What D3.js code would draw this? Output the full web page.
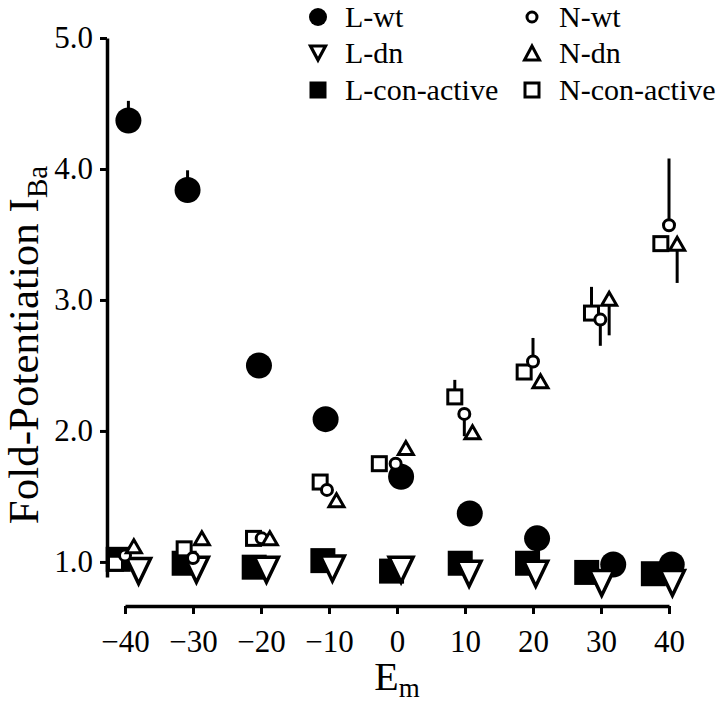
<!DOCTYPE html>
<html><head><meta charset="utf-8">
<script src="https://cdn.jsdelivr.net/npm/d3@7"></script>
<style>
body{margin:0;background:#fff}
svg{display:block}
text{font-family:"Liberation Serif","Times New Roman",serif;fill:#000}
</style>
</head><body>
<svg id="c" width="720" height="706"></svg>
<script>
// ---- data ----
const yTicks = [1, 2, 3, 4, 5];
const xTicks = [-40, -30, -20, -10, 0, 10, 20, 30, 40];

const seriesNames = ["L-wt", "N-wt", "L-dn", "N-dn", "L-con-active", "N-con-active"];

// plotted membrane potential (mV) and fold-potentiation for each series
const lwtE = [-39.5, -30.8, -20.3, -10.5, 0.6, 10.7, 20.6, 31.8, 40.4];
const lwtV = [4.37, 3.84, 2.50, 2.09, 1.65, 1.37, 1.18, 0.98, 0.98];
const lwtErr = [0.15, 0.15, 0, 0, 0, 0, 0, 0, 0];

const ldnE = [-38.0, -29.5, -19.2, -9.5, 0.6, 10.6, 20.4, 30.1, 40.5];
const ldnV = [0.93, 0.94, 0.94, 0.95, 0.94, 0.91, 0.91, 0.84, 0.84];

const lcaE = [-41.0, -31.3, -21.0, -10.9, -0.8, 9.3, 19.2, 27.9, 37.7];
const lcaV = [1.02, 0.99, 0.96, 1.01, 0.93, 0.99, 0.99, 0.92, 0.91];

const nwtE = [-40.0, -30.0, -19.9, -10.3, -0.2, 9.9, 20.0, 29.9, 40.0];
const nwtV = [1.05, 1.03, 1.18, 1.55, 1.75, 2.13, 2.53, 2.85, 3.57];
const nwtErr = [0, 0, 0, 0, 0, -0.17, 0.18, -0.20, 0.51];

const ndnE = [-38.7, -28.7, -18.7, -8.9, 1.3, 11.1, 21.1, 31.2, 41.2];
const ndnV = [1.12, 1.18, 1.18, 1.47, 1.87, 1.99, 2.38, 3.01, 3.43];
const ndnErr = [0, 0, 0, 0, 0, 0, 0, -0.28, -0.30];

const ncaE = [-41.4, -31.3, -21.1, -11.3, -2.6, 8.5, 18.7, 28.6, 38.8];
const ncaV = [0.99, 1.10, 1.18, 1.61, 1.75, 2.26, 2.45, 2.90, 3.43];
const ncaErr = [0, 0, 0, 0, 0, 0.13, 0, 0.20, 0];

// ---- chart ----
const svg = d3.select("#c");
const x = d3.scaleLinear().domain([-40, 40]).range([125, 669]);
const y = d3.scaleLinear().domain([0.885, 5]).range([577, 38]);

const zip = (E, V, Er) => E.map((e, i) => ({e, v: V[i], err: Er ? Er[i] : 0}));

const series = [
  {name: "L-con-active", type: "fsquare", data: zip(lcaE, lcaV)},
  {name: "L-wt", type: "fcircle", data: zip(lwtE, lwtV, lwtErr)},
  {name: "L-dn", type: "dtri", data: zip(ldnE, ldnV)},
  {name: "N-con-active", type: "osquare", data: zip(ncaE, ncaV, ncaErr)},
  {name: "N-wt", type: "ocircle", data: zip(nwtE, nwtV, nwtErr)},
  {name: "N-dn", type: "utri", data: zip(ndnE, ndnV, ndnErr)}
];

function marker(g, type, big) {
  if (type === "fcircle") {
    g.append("circle").attr("r", big ? 13 : 9).attr("fill", "#000");
  } else if (type === "fsquare") {
    const w = big ? 25 : 17;
    g.append("rect").attr("x", -w/2).attr("y", -w/2).attr("width", w).attr("height", w).attr("fill", "#000");
  } else if (type === "dtri") {
    const w = big ? 24 : 15, h = big ? 25 : 14;
    g.append("path").attr("d", `M0,${h/2}L${w/2},${-h/2}L${-w/2},${-h/2}Z`)
      .attr("fill", "#fff").attr("stroke", "#000").attr("stroke-width", big ? 3.5 : 3.2).attr("stroke-linejoin", "miter");
  } else if (type === "utri") {
    const w = 15, h = big ? 13 : 14;
    g.append("path").attr("d", `M0,${-h/2}L${w/2},${h/2}L${-w/2},${h/2}Z`)
      .attr("fill", "#fff").attr("stroke", "#000").attr("stroke-width", 3).attr("stroke-linejoin", "miter");
  } else if (type === "ocircle") {
    g.append("circle").attr("r", big ? 5.5 : 5).attr("fill", "#fff").attr("stroke", "#000").attr("stroke-width", 3);
  } else if (type === "osquare") {
    const w = 14;
    g.append("rect").attr("x", -w/2).attr("y", -w/2).attr("width", w).attr("height", w)
      .attr("fill", "#fff").attr("stroke", "#000").attr("stroke-width", 3);
  }
}

// axes
const yAxis = d3.axisLeft(y).tickValues(yTicks).tickFormat(d3.format(".1f")).tickSize(7).tickSizeOuter(0).tickPadding(7);
const gy = svg.append("g").attr("transform", "translate(107,0)").call(yAxis);
const xAxis = d3.axisBottom(x).tickValues(xTicks).tickFormat(d3.format("d")).tickSize(8).tickSizeOuter(0).tickPadding(16);
const gx = svg.append("g").attr("transform", "translate(0,606)").call(xAxis);
[gy, gx].forEach(g => {
  g.select(".domain").attr("stroke", "#000").attr("stroke-width", 3.5);
  g.selectAll(".tick line").attr("stroke", "#000").attr("stroke-width", 3);
  g.selectAll(".tick text").style("font-size", "31px").attr("fill", "#000")
    .style("font-family", '"Liberation Serif","Times New Roman",serif');
});
gx.selectAll(".tick text").attr("dy", "0.71em");

// axis titles
const yl = svg.append("text").attr("transform", "translate(38,345) rotate(-90)")
  .attr("text-anchor", "middle").style("font-size", "43px");
yl.append("tspan").text("Fold-Potentiation I");
yl.append("tspan").text("Ba").style("font-size", "29px").attr("dy", "9");

const xl = svg.append("text").attr("x", 397).attr("y", 690).attr("text-anchor", "middle").style("font-size", "40px");
xl.append("tspan").text("E");
xl.append("tspan").text("m").style("font-size", "27px").attr("dy", "7");

// error bars
const eg = svg.append("g");
series.forEach(s => {
  eg.selectAll(null).data(s.data.filter(d => d.err !== 0)).enter().append("line")
    .attr("x1", d => x(d.e)).attr("x2", d => x(d.e))
    .attr("y1", d => y(d.v)).attr("y2", d => y(d.v + d.err))
    .attr("stroke", "#000").attr("stroke-width", 3);
});

// markers
series.forEach(s => {
  const g = svg.append("g");
  g.selectAll("g").data(s.data).enter().append("g")
    .attr("transform", d => `translate(${x(d.e)},${y(d.v)})`)
    .each(function() { marker(d3.select(this), s.type, true); });
});

// legend
const legendItems = [
  {name: "L-wt", type: "fcircle", col: 0, row: 0},
  {name: "N-wt", type: "ocircle", col: 1, row: 0},
  {name: "L-dn", type: "dtri", col: 0, row: 1},
  {name: "N-dn", type: "utri", col: 1, row: 1},
  {name: "L-con-active", type: "fsquare", col: 0, row: 2},
  {name: "N-con-active", type: "osquare", col: 1, row: 2}
];
const colX = [318, 532], rowY = [17, 53, 90];
legendItems.forEach(it => {
  const g = svg.append("g").attr("transform", `translate(${colX[it.col]},${rowY[it.row]})`);
  marker(g, it.type, false);
  g.append("text").attr("x", 27).attr("y", 10).style("font-size", "30px").text(it.name);
});
</script>
</body></html>
